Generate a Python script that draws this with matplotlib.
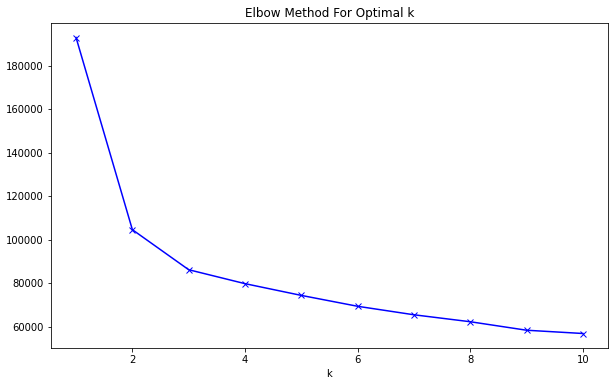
import matplotlib
matplotlib.use('Agg')
import matplotlib.pyplot as plt

# valores
K = [1, 2, 3, 4, 5, 6, 7, 8, 9, 10]
distortions = [193000, 104700, 86300, 79900, 74500, 69500, 65600, 62400, 58500, 57000]

fig = plt.figure(figsize=(615 / 72, 384 / 72), dpi=72)
ax = fig.add_axes([50.7 / 615, 1 - 348.3 / 384, (608.3 - 50.7) / 615, (348.3 - 22.7) / 384])
ax.plot(K, distortions, 'bx-')
ax.set_xlabel('k')
ax.set_title('Elbow Method For Optimal k')
fig.savefig('out.png', dpi=72)
